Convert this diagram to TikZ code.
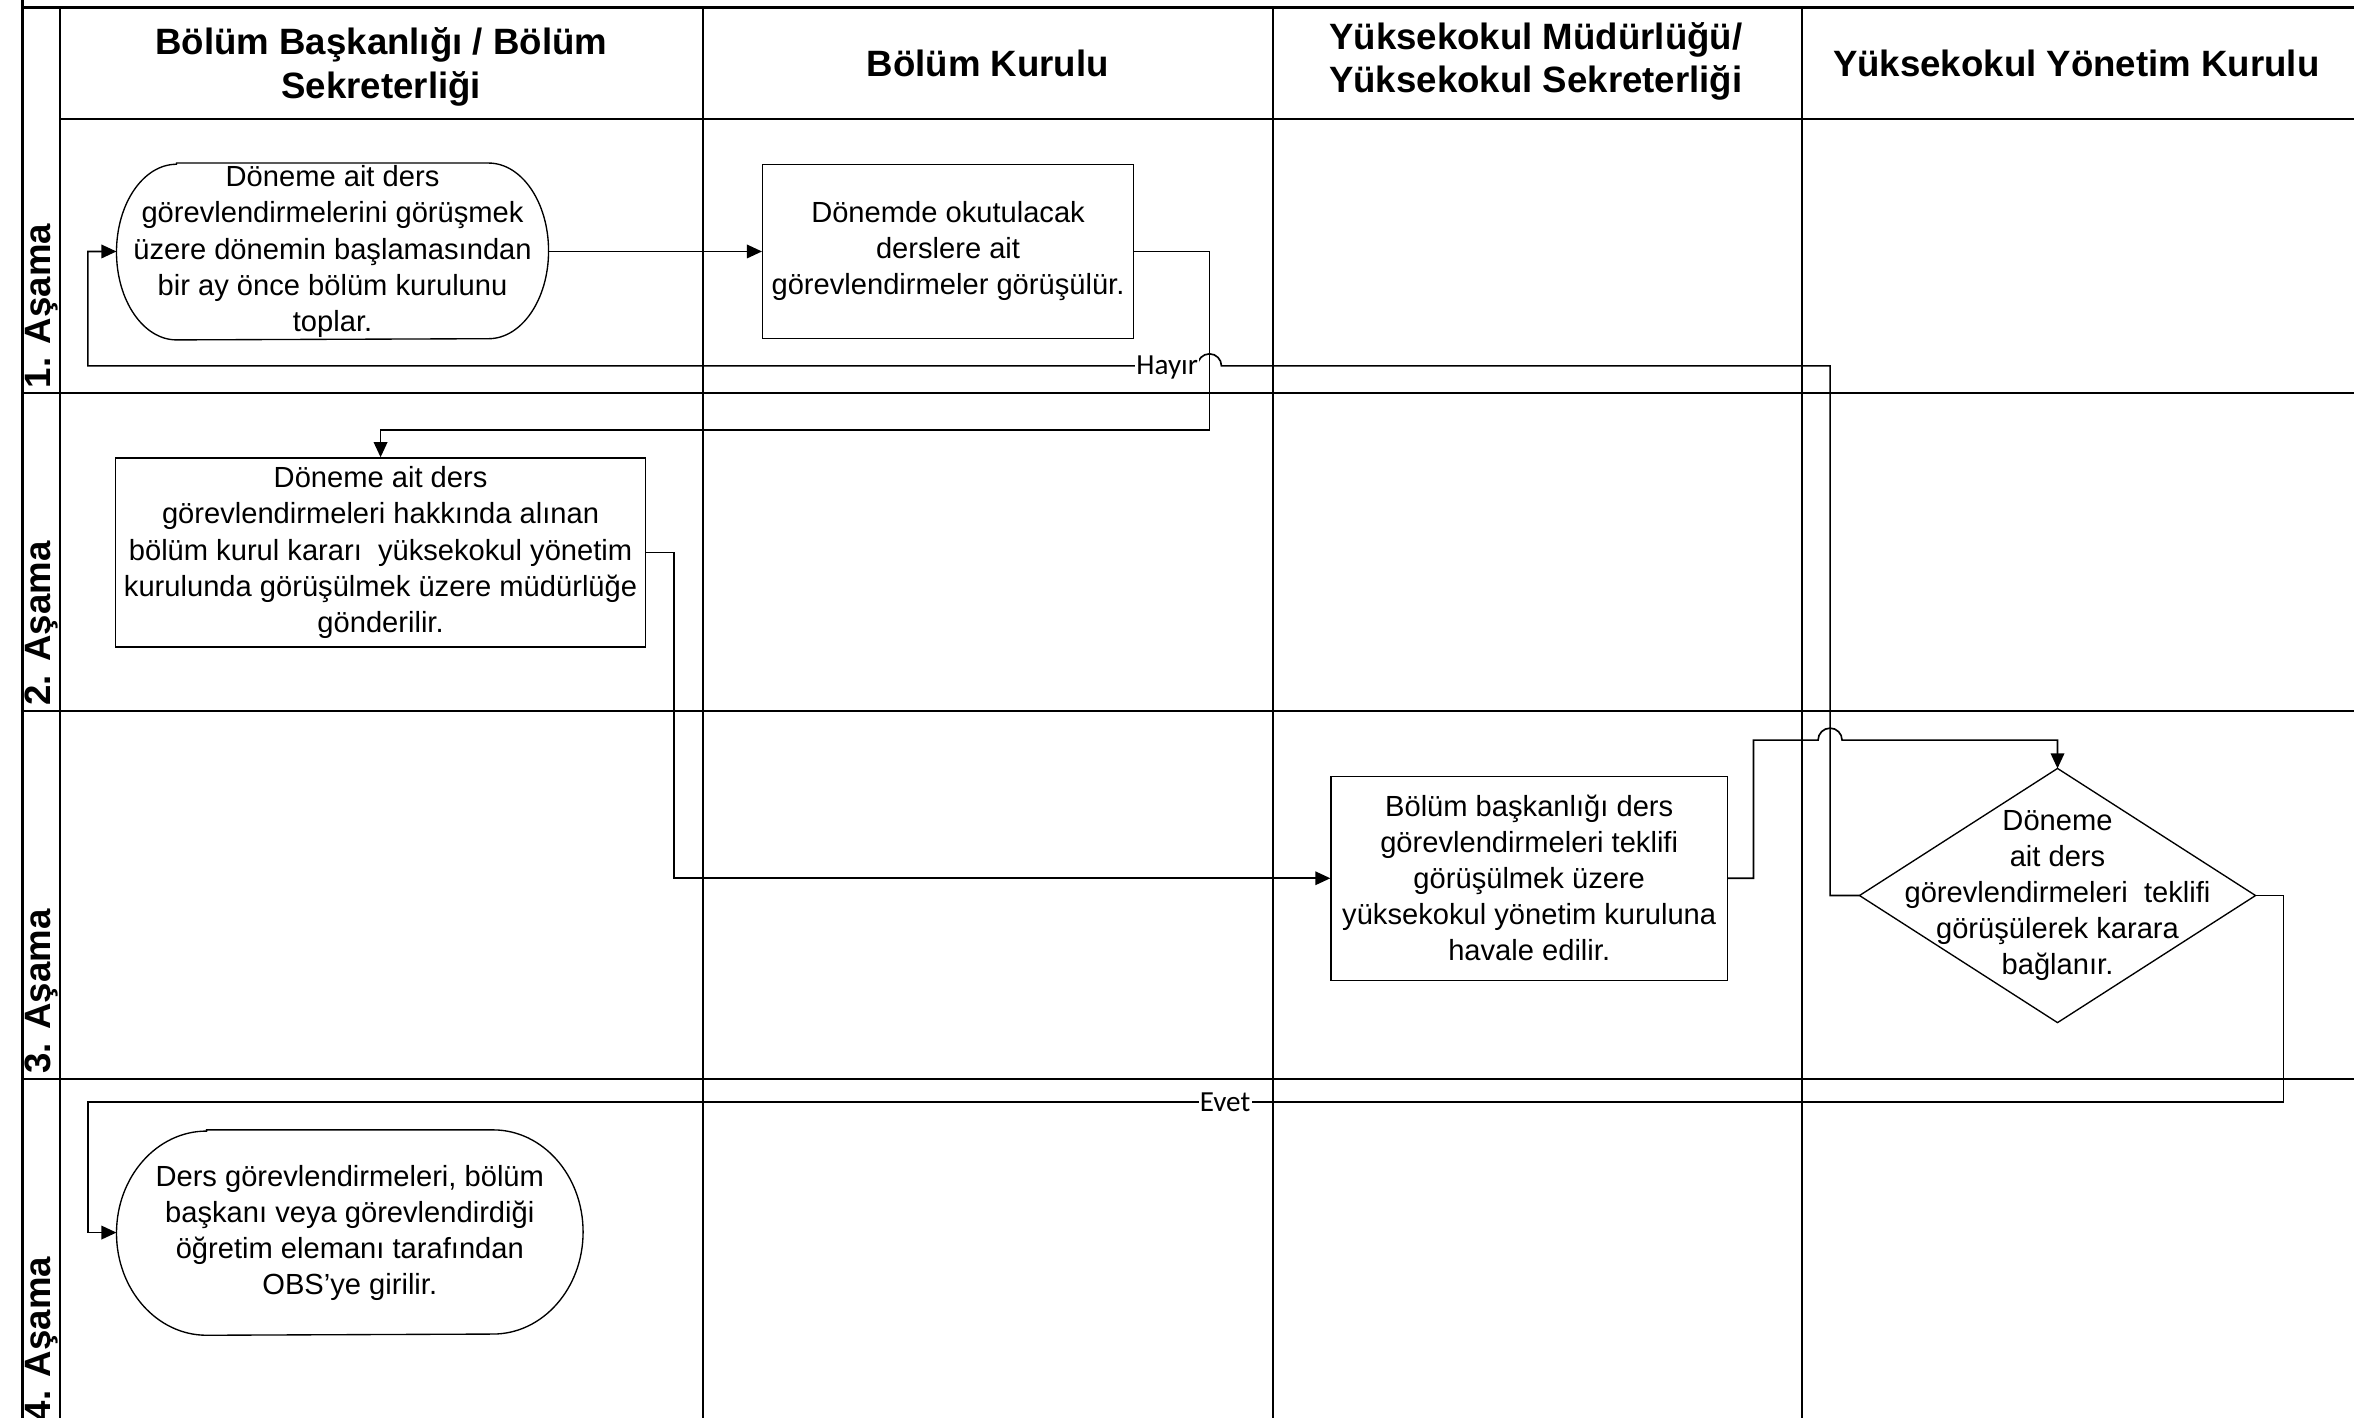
\documentclass[tikz,border=0pt]{standalone}
\usepackage{fontspec}
\setmainfont{Liberation Sans}
\newfontfamily\lblfont{Carlito}
\usetikzlibrary{arrows.meta}
\newcommand\myBodyFont{\fontsize{9.7pt}{12pt}\selectfont}
\newcommand\myHdrFont{\bfseries\fontsize{12.2pt}{14.5pt}\selectfont}
\begin{document}
\begin{tikzpicture}[x=0.5pt,y=-0.5pt,
  grid/.style={line width=0.7pt},
  proc/.style={draw, line width=0.45pt, rectangle, inner sep=0pt, align=center, font=\myBodyFont},
  term/.style={rectangle, inner sep=0pt, align=center, font=\myBodyFont},
  outline/.style={line width=0.45pt},
  hdr/.style={align=center, font=\myHdrFont, inner sep=0pt},
  lane/.style={rotate=90, anchor=base west, font=\myHdrFont, inner sep=0pt},
  conn/.style={line width=0.55pt},
  arr/.style={-{Triangle[length=5pt,width=4.5pt]}},
  lbl/.style={fill=white, inner sep=0.4pt, font=\lblfont\fontsize{9.7pt}{11pt}\selectfont}
]
\useasboundingbox (0,0) rectangle (1568,944);
% grid
\draw[grid] (15,0) -- (15,950);
\draw[grid] (15,5) -- (1570,5);
\draw[grid] (40,5) -- (40,950);
\draw[grid] (40,79) -- (1570,79);
\foreach \y in {262,473.5,718.5} \draw[grid] (15,\y) -- (1570,\y);
\foreach \x in {468,848,1200} \draw[grid] (\x,5) -- (\x,950);
% headers
\node[hdr] (h1) at (254,44.5) {Bölüm Başkanlığı / Bölüm\\Sekreterliği};
\node[hdr] (h2) at (658,42) {Bölüm Kurulu};
\node[hdr] (h3) at (1023,41) {Yüksekokul Müdürlüğü/\\Yüksekokul Sekreterliği};
\node[hdr] (h4) at (1383,42) {Yüksekokul Yönetim Kurulu};
% lane labels
\node[lane] (l1) at (33.5,259) {1. Aşama};
\node[lane] (l2) at (33.5,470.5) {2. Aşama};
\node[lane] (l3) at (33.5,715.5) {3. Aşama};
\node[lane] (l4) at (33.5,947) {4. Aşama};
% nodes
\node[term, minimum width=143.5pt, minimum height=58.5pt] (A) at (221.5,167.5)
  {Döneme ait ders\\görevlendirmelerini görüşmek\\üzere dönemin başlamasından\\bir ay önce bölüm kurulunu\\toplar.};
\draw[outline] ([xshift=20pt]A.north west) -- ([xshift=-20pt]A.north east)
  arc[start angle=90,end angle=-90,x radius=20pt,y radius=29.25pt]
  -- ([xshift=20pt]A.south west)
  arc[start angle=270,end angle=90,x radius=20pt,y radius=29.25pt] -- cycle;
\node[proc, minimum width=123.5pt, minimum height=58pt] (B) at (631.5,167.5)
  {Dönemde okutulacak\\derslere ait\\görevlendirmeler görüşülür.};
\node[proc, minimum width=176.5pt, minimum height=63pt] (C) at (253.5,368)
  {Döneme ait ders\\görevlendirmeleri hakkında alınan\\bölüm kurul kararı\ \ yüksekokul yönetim\\kurulunda görüşülmek üzere müdürlüğe\\gönderilir.};
\node[proc, minimum width=132pt, minimum height=68pt] (D) at (1018.6,585)
  {Bölüm başkanlığı ders\\görevlendirmeleri teklifi\\görüşülmek üzere\\yüksekokul yönetim kuruluna\\havale edilir.};
\node[term, minimum width=131.5pt, minimum height=84.25pt] (E) at (1370.5,596.5)
  {Döneme\\ait ders\\görevlendirmeleri\ \ teklifi\\görüşülerek karara\\bağlanır.};
\draw[outline] (E.north) -- (E.east) -- (E.south) -- (E.west) -- cycle;
\node[term, minimum width=155pt, minimum height=68pt] (F) at (233,821)
  {Ders görevlendirmeleri, bölüm\\başkanı veya görevlendirdiği\\öğretim elemanı tarafından\\OBS’ye girilir.};
\draw[outline] ([xshift=30pt]F.north west) -- ([xshift=-30pt]F.north east)
  arc[start angle=90,end angle=-90,x radius=30pt,y radius=34pt]
  -- ([xshift=30pt]F.south west)
  arc[start angle=270,end angle=90,x radius=30pt,y radius=34pt] -- cycle;
% helper coordinates
\coordinate (bc) at (805.6,286.5);
\coordinate (cd) at (449,368);
\coordinate (de) at (1168,493);
\coordinate (hopB) at (1211,493);
\coordinate (hy) at (1219,243.7);
\coordinate (hopA) at (813.6,243.7);
\coordinate (lpA) at (58.5,243.7);
\coordinate (ev) at (1521,734);
\coordinate (lpF) at (58.6,734);
% connectors
\draw[conn,arr] (A.east) -- (B.west);
\draw[conn,arr] (B.east) -| (bc) -| (C.north);
\draw[conn,arr] (C.east) -- (cd |- C.east) |- (D.west);
\draw[conn,arr] (D.east) -| (de) -- (hopB) arc[start angle=180,end angle=0,radius=4pt] -| (E.north);
\draw[conn,arr] (E.west) -| (hy) -- (hopA) arc[start angle=0,end angle=180,radius=4pt] -- (lpA) |- (A.west);
\draw[conn,arr] (E.east) -| (ev) -- (lpF) |- (F.west);
% labels
\node[lbl] (hayir) at (777.5,244.5) {Hayır};
\node[lbl] (evet) at (816,734.5) {Evet};
\end{tikzpicture}
\end{document}
